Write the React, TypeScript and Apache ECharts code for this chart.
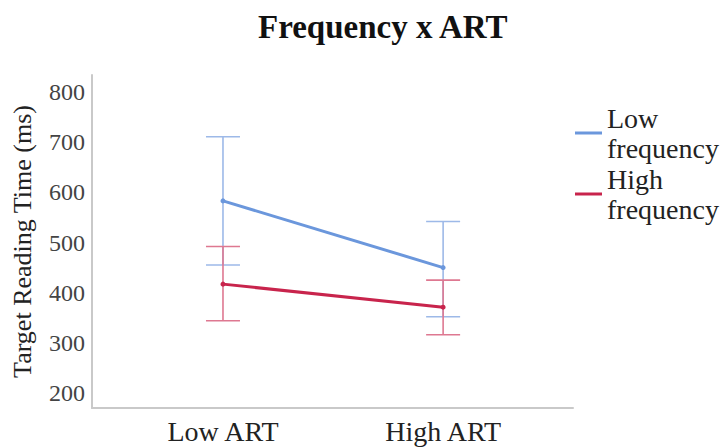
import React, { useEffect, useRef } from "react";
import * as echarts from "echarts";

const categories = ["Low ART", "High ART"];
const seriesNames = ["Low frequency", "High frequency"];
const lowFreqMean = [583, 450];
const lowFreqLower = [455, 352];
const lowFreqUpper = [711, 542];
const highFreqMean = [417, 371];
const highFreqLower = [344, 316];
const highFreqUpper = [492, 425];
const yTicks = [200, 300, 400, 500, 600, 700, 800];

const lineColors = ["#6b97dc", "#c8244c"];
const barColors = ["#9db9e8", "#de7891"];
const FONT = "Liberation Serif";

export default function App() {
  const ref = useRef<HTMLDivElement>(null);
  useEffect(() => {
    if (!ref.current) return;
    const chart = echarts.init(ref.current, undefined, { renderer: "svg" });
    const errData = (lo: number[], hi: number[]) =>
      categories.map((_, i) => [i, lo[i], hi[i]]);
    const errSeries = (name: string, lo: number[], hi: number[], color: string) => ({
      type: "custom",
      name: name + " err",
      data: errData(lo, hi),
      silent: true,
      z: 1,
      renderItem: (params: any, api: any) => {
        const x = api.value(0);
        const p1 = api.coord([x, api.value(1)]);
        const p2 = api.coord([x, api.value(2)]);
        const hw = 17;
        const style = { stroke: color, lineWidth: 1.6, fill: "none" };
        return {
          type: "group",
          children: [
            { type: "line", shape: { x1: p1[0], y1: p1[1], x2: p2[0], y2: p2[1] }, style },
            { type: "line", shape: { x1: p1[0] - hw, y1: p1[1], x2: p1[0] + hw, y2: p1[1] }, style },
            { type: "line", shape: { x1: p2[0] - hw, y1: p2[1], x2: p2[0] + hw, y2: p2[1] }, style },
          ],
        };
      },
    });
    chart.setOption({
      animation: false,
      textStyle: { fontFamily: FONT },
      title: {
        text: "Frequency x ART",
        left: 253,
        top: 5,
        textStyle: { fontFamily: FONT, fontSize: 33, fontWeight: "bold", color: "#111" },
      },
      legend: {
        orient: "vertical",
        left: 570,
        top: 98,
        itemWidth: 27,
        itemHeight: 3,
        itemGap: 1,
        icon: "rect",
        data: seriesNames,
        formatter: (n: string) => n.replace(" ", "\n"),
        textStyle: { fontFamily: FONT, fontSize: 28, lineHeight: 30, color: "#222" },
      },
      grid: {
        left: 92,
        right: 148,
        top: 75,
        bottom: 40,
        containLabel: false,
        outerBoundsMode: "none",
      },
      xAxis: {
        type: "value",
        min: -0.595,
        max: 1.59,
        splitLine: { show: false },
        axisLine: { show: true, onZero: false, lineStyle: { color: "#c9c9c9", width: 2 } },
        axisTick: { show: false },
        axisLabel: {
          customValues: [0, 1],
          formatter: (v: number) => categories[Math.round(v)] ?? "",
          fontFamily: FONT,
          fontSize: 28,
          color: "#222",
          margin: 9,
        },
      },
      yAxis: {
        type: "value",
        min: 170,
        max: 834,
        name: "Target Reading Time (ms)",
        nameLocation: "middle",
        nameGap: 57,
        nameTextStyle: { fontFamily: FONT, fontSize: 26, color: "#222" },
        splitLine: { show: false },
        axisLine: { show: true, onZero: false, lineStyle: { color: "#c9c9c9", width: 2 } },
        axisTick: { show: false, customValues: yTicks },
        axisLabel: {
          customValues: yTicks,
          fontFamily: FONT,
          fontSize: 24,
          color: "#444",
          margin: 7,
        },
      },
      series: [
        errSeries(seriesNames[0], lowFreqLower, lowFreqUpper, barColors[0]),
        errSeries(seriesNames[1], highFreqLower, highFreqUpper, barColors[1]),
        {
          type: "line",
          name: seriesNames[0],
          data: categories.map((_, i) => [i, lowFreqMean[i]]),
          symbol: "circle",
          symbolSize: 5,
          z: 3,
          itemStyle: { color: lineColors[0] },
          lineStyle: { color: lineColors[0], width: 3 },
        },
        {
          type: "line",
          name: seriesNames[1],
          data: categories.map((_, i) => [i, highFreqMean[i]]),
          symbol: "circle",
          symbolSize: 5,
          z: 3,
          itemStyle: { color: lineColors[1] },
          lineStyle: { color: lineColors[1], width: 3 },
        },
      ],
    });
    return () => chart.dispose();
  }, []);
  return (
    <div
      ref={ref}
      style={{ width: 721, height: 448, position: "absolute", left: 0, top: 0 }}
    />
  );
}
